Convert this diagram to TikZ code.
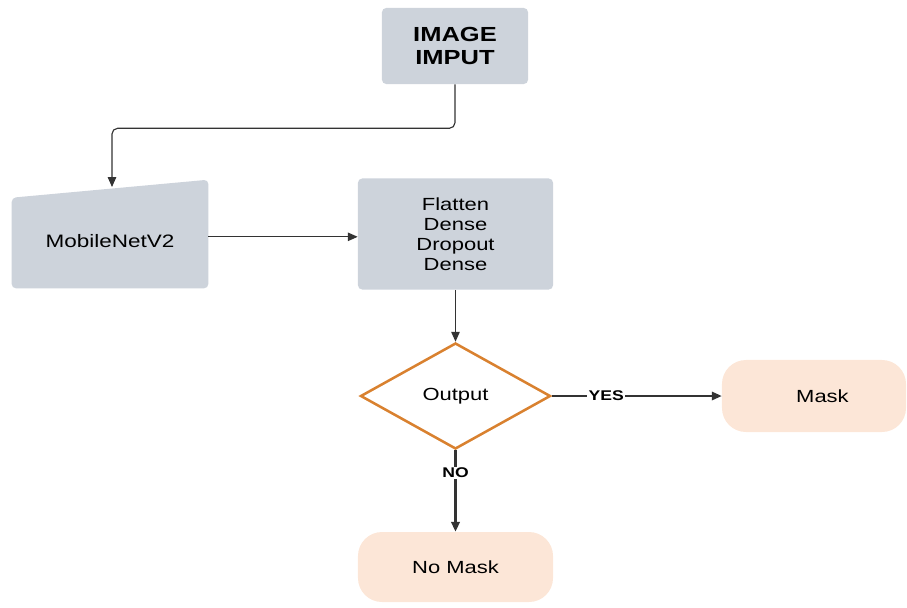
\documentclass[tikz,border=0pt]{standalone}
\usepackage{fontspec}
\setmainfont[FakeStretch=1.25]{Liberation Sans}
\usetikzlibrary{shapes.geometric,arrows.meta,backgrounds}
\definecolor{boxgray}{HTML}{CDD3DB}
\definecolor{peach}{HTML}{FCE6D7}
\definecolor{rhombus}{HTML}{D9812F}
\definecolor{wire}{HTML}{333333}

\begin{document}
\begin{tikzpicture}[x=0.025cm, y=-0.025cm,
		layer/.style={fill=boxgray, rounded corners=3pt, align=center, inner sep=0pt,
			font=\fontsize{12.5}{14.2}\selectfont},
		result/.style={fill=peach, rounded corners=0.6cm, align=center,
			minimum width=4.875cm, minimum height=1.75cm, font=\fontsize{12.5}{14.2}\selectfont},
		wireto/.style={draw=wire, line width=0.8pt, -{Triangle[length=7pt,width=6pt]}},
		branch/.style={fill=white, inner sep=1pt, font=\bfseries\fontsize{10}{12}\selectfont}]
		\useasboundingbox (0,0) rectangle (907,607);
		% boxes
		\node[layer, minimum width=3.65cm, minimum height=1.9cm,
			font=\bfseries\fontsize{14.5}{17}\selectfont] (input) at (455,46) {IMAGE\\IMPUT};
		\node[minimum width=4.9cm, minimum height=2.7cm, inner sep=0pt,
			font=\fontsize{12.8}{14.2}\selectfont] (mobilenet) at (110,234) {\raisebox{-9.5pt}[0pt][0pt]{MobileNetV2}};
		\begin{scope}[on background layer]
			\fill[boxgray, rounded corners=3pt] (mobilenet.south west) -- ([yshift=-0.45cm]mobilenet.north west)
			-- (mobilenet.north east) -- (mobilenet.south east) -- cycle;
		\end{scope}
		\node[layer, minimum width=4.875cm, minimum height=2.775cm] (layers) at (455.5,234)
			{Flatten\\Dense\\Dropout\\Dense};
		\node[diamond, draw=rhombus, line width=1.8pt, fill=white, minimum width=4.75cm,
			minimum height=2.65cm, inner sep=0pt, font=\fontsize{12.5}{14.2}\selectfont] (output) at (455.5,396) {Output};
		\node[result, minimum width=4.6cm, minimum height=1.8cm] (mask) at (814,396) {\hspace*{12pt}Mask};
		\node[result] (nomask) at (455.5,567) {No Mask};
		% connectors
		\coordinate (mtop) at (112,187);
		\draw[wireto, rounded corners=4pt] (input.south) -- ++(0,44) -| (mtop);
		\draw[wireto] ([yshift=-2pt]mobilenet.east) -- ([yshift=-2pt]layers.west);
		\draw[wireto] (layers.south) -- (output.north);
		\draw[wireto, line width=1.3pt] (output.east) -- node[branch, pos=0.32] {YES} (mask.west);
		\draw[wireto, line width=1.8pt] (output.south) -- node[branch, pos=0.28] {NO} (nomask.north);
\end{tikzpicture}
\end{document}
